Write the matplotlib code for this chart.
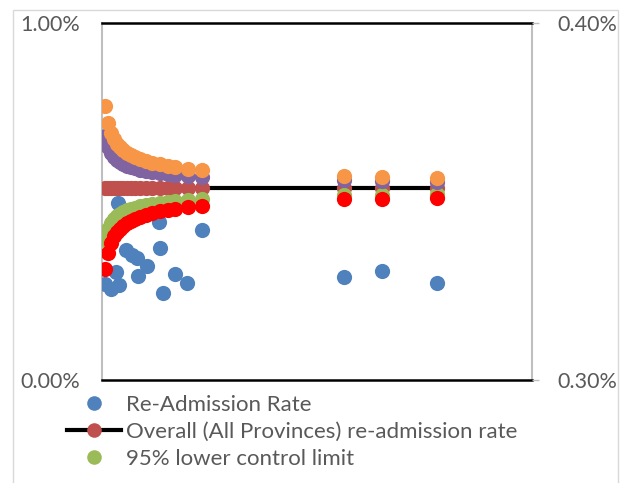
import matplotlib
matplotlib.use("Agg")
import matplotlib.pyplot as plt
from matplotlib.lines import Line2D
from matplotlib.patches import Rectangle

plt.rcParams['font.family'] = ['Lato', 'DejaVu Sans']

# ---- data (x = relative volume, values in %) ----
funnel_x = [3, 6, 9, 12, 15, 18, 21, 25, 29, 33, 38, 44, 50, 58, 66, 73, 86, 100, 242, 280, 335]
overall = [0.538] * 21
upper_998 = [0.768, 0.719, 0.692, 0.674, 0.662, 0.652, 0.644, 0.636, 0.630, 0.624, 0.619,
             0.613, 0.609, 0.604, 0.600, 0.597, 0.592, 0.588, 0.571, 0.569, 0.566]
lower_998 = [0.312, 0.357, 0.384, 0.402, 0.414, 0.424, 0.432, 0.440, 0.446, 0.452, 0.457,
             0.463, 0.467, 0.472, 0.476, 0.479, 0.484, 0.488, 0.506, 0.508, 0.510]
upper_95 = [0.684, 0.653, 0.636, 0.625, 0.617, 0.610, 0.606, 0.600, 0.596, 0.593, 0.589,
            0.586, 0.583, 0.580, 0.577, 0.575, 0.572, 0.570, 0.559, 0.557, 0.556]
lower_95 = [0.392, 0.423, 0.440, 0.451, 0.460, 0.466, 0.471, 0.476, 0.480, 0.483, 0.487,
            0.490, 0.493, 0.496, 0.499, 0.501, 0.504, 0.506, 0.517, 0.519, 0.520]

rate_x = [16, 57, 100, 58, 24, 30, 35, 45, 36, 73, 85, 61, 3, 9, 17, 14, 242, 280, 335]
rate_y = [0.496, 0.443, 0.420, 0.370, 0.364, 0.350, 0.342, 0.319, 0.291, 0.297, 0.272,
          0.244, 0.269, 0.255, 0.266, 0.303, 0.289, 0.305, 0.272]

left_ticks = [0.0, 1.0]
left_labels = ['0.00%', '1.00%']
right_ticks = [0.30, 0.40]
right_labels = ['0.30%', '0.40%']

labels = ['Re-Admission Rate', 'Overall (All Provinces) re-admission rate', '95% lower control limit']

# ---- style ----
c_blue = '#4F81BD'
c_overall = '#C0504D'
c_green = '#9BBB59'
c_purple = '#8064A2'
c_red = '#FF0000'
c_orange = '#F79646'
txt = '#595959'
grey = '#BFBFBF'
S = 120

W, H = 628, 483
fig = plt.figure(figsize=(W / 100, H / 100), dpi=100)
ax = fig.add_axes([102 / W, 1 - 380 / H, (532 - 102) / W, (380 - 23) / H])

ax.scatter(rate_x, rate_y, s=S, color=c_blue, lw=0, zorder=3)
ax.plot(funnel_x, overall, color='black', lw=3, zorder=4)
ax.scatter(funnel_x, overall, s=S, color=c_overall, lw=0, zorder=5)
ax.scatter(funnel_x, lower_95, s=S, color=c_green, lw=0, zorder=6)
ax.scatter(funnel_x, upper_95, s=S, color=c_purple, lw=0, zorder=7)
ax.scatter(funnel_x, lower_998, s=S, color=c_red, lw=0, zorder=8)
ax.scatter(funnel_x, upper_998, s=S, color=c_orange, lw=0, zorder=9)

ax.set_xlim(0, 430)
ax.set_ylim(0, 1.0)
ax.set_xticks([])
ax.set_yticks(left_ticks)
ax.set_yticklabels(left_labels)
ax.tick_params(axis='y', length=0, pad=16, labelsize=15.5, labelcolor=txt)
ax.spines['left'].set_color(grey)
ax.spines['right'].set_color(grey)
ax.spines['top'].set_color('black')
ax.spines['bottom'].set_color('black')
ax.spines['top'].set_linewidth(1.8)
ax.spines['bottom'].set_linewidth(1.8)
ax.spines['left'].set_linewidth(1.5)
ax.spines['right'].set_linewidth(1.5)

ax2 = ax.twinx()
ax2.set_ylim(0.30, 0.40)
ax2.set_yticks(right_ticks)
ax2.set_yticklabels(right_labels)
ax2.tick_params(axis='y', length=5, width=1, color=grey, pad=13, labelsize=15.5, labelcolor=txt)
for s in ax2.spines.values():
    s.set_visible(False)

handles = [
    Line2D([], [], ls='none', marker='o', ms=10.5, color=c_blue, mew=0),
    Line2D([], [], ls='-', lw=3, color='black', marker='o', ms=10.5, mfc=c_overall, mec=c_overall, mew=0),
    Line2D([], [], ls='none', marker='o', ms=10.5, color=c_green, mew=0),
]
fig.legend(handles, labels, loc='upper left', bbox_to_anchor=(67 / W, 1 - 395 / H),
           frameon=False, fontsize=16, labelcolor=txt, handlelength=2.45,
           handletextpad=0.2, labelspacing=0.32, borderpad=0, borderaxespad=0)

fig.patches.append(Rectangle((13 / W, -0.1), (618 - 13) / W, (1 - 10 / H) + 0.1,
                             transform=fig.transFigure, fill=False, ec='#D9D9D9', lw=1))

fig.savefig('out.png', dpi=100)
